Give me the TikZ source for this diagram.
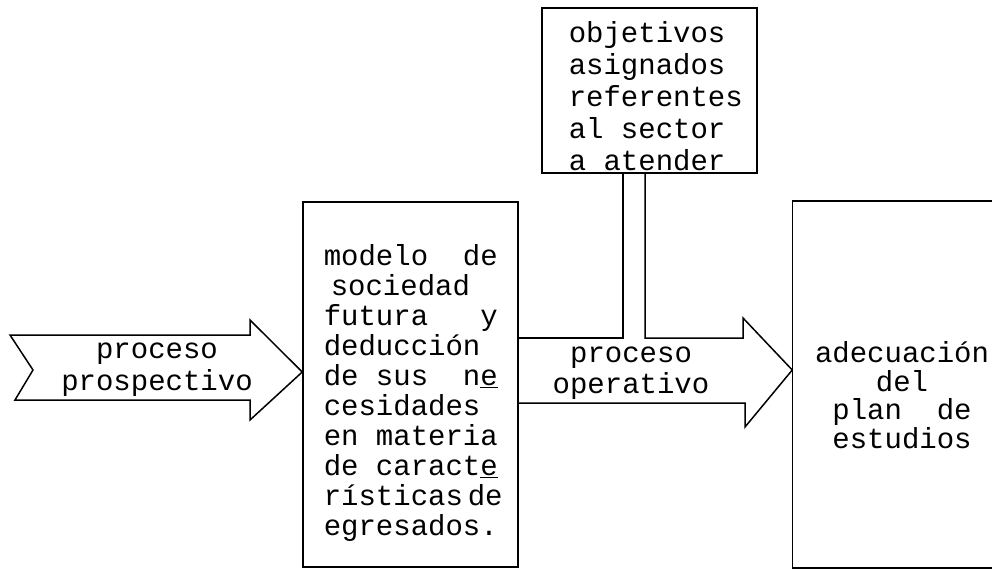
\documentclass[tikz,border=0pt]{standalone}
\usepackage{fontspec}
\newfontfamily\mono{Liberation Mono}
\begin{document}
\begin{tikzpicture}[x=1pt,y=-1pt, line width=1.5pt, line join=miter,
  box/.style={draw, inner sep=0pt},
  txt/.style={font=\mono\fontsize{29}{30}\selectfont, inner sep=0pt},
  hb/.style={font=\mono\fontsize{29}{32}\selectfont, inner sep=0pt}]
\useasboundingbox[fill=white] (0,0) rectangle (992,569);
% boxes
\node[box, minimum width=215pt, minimum height=365pt] (mid) at (410.5,384.5) {};
\node[box, minimum width=215pt, minimum height=165pt] (obj) at (649.5,90.5) {};
\node[inner sep=0pt, minimum width=199pt, minimum height=365pt] (plan) at (892.5,384.5) {};
\draw (plan.north east) -- (plan.north west) -- (plan.south west) -- (plan.south east);
% helper coordinates
\coordinate (tipL) at (0,372);
\coordinate (tipR) at (0,370);
\coordinate (s1) at (0,338);
\coordinate (b1) at (0,403);
% left arrow (proceso prospectivo)
\draw (10,335) -- (250,335) -- (250,320) -- (mid.west |- tipL) -- (250,420) -- (250,400)
      -- (15,400) -- (33,370) -- cycle;
% right arrow (proceso operativo) with stem from the top box
\draw (mid.east |- s1) -- (623,338) -- (623,173);
\draw (645,173) -- (645,338) -- (743,338) -- (743,318) -- (plan.west |- tipR)
      -- (745,427) -- (745,403) -- (mid.east |- b1);
% texts
\node[hb, align=center] (tpp) at (157,370) {proceso\\prospectivo};
\node[font=\mono\fontsize{29}{31}\selectfont, inner sep=0pt, align=center] (tpo) at (631,373) {proceso\\operativo};
\node[txt, align=left, anchor=west] (tmid) at (323,393)
  {modelo\ \ de\\[0pt]\hspace*{7pt}sociedad\\futura\ \ \ y\\deducción\\de sus\ \ n\underline{e}\\cesidades\\en materia\\de caract\underline{e}\\rísticas\,de\\egresados.};
\node[hb, align=left, anchor=west] (tobj) at (568,96)
  {objetivos\\asignados\\referentes\\al sector\\a atender};
\node[font=\mono\fontsize{29}{28.5}\selectfont, inner sep=0pt, align=center] (tplan) at (902,395)
  {adecuación\\del\\plan\ \ de\\estudios};
\end{tikzpicture}
\end{document}
